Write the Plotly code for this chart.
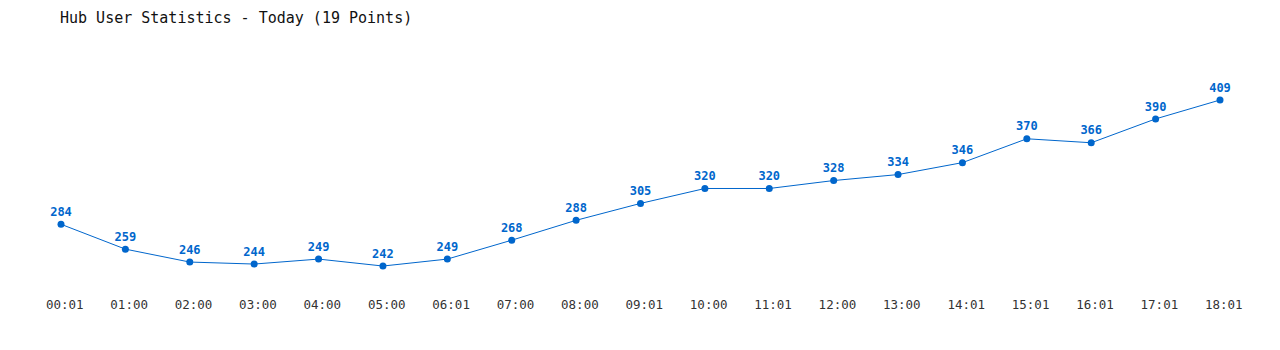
import plotly.graph_objects as go

times = ["00:01", "01:00", "02:00", "03:00", "04:00", "05:00", "06:01", "07:00", "08:00",
         "09:01", "10:00", "11:01", "12:00", "13:00", "14:01", "15:01", "16:01", "17:01", "18:01"]
users = [284, 259, 246, 244, 249, 242, 249, 268, 288, 305, 320, 320, 328, 334, 346, 370, 366, 390, 409]

idx = list(range(len(times)))
color = "#0066cc"

fig = go.Figure(go.Scatter(
    x=idx, y=users, mode="lines+markers+text",
    line=dict(color=color, width=1),
    marker=dict(color=color, size=7),
    text=[str(v) for v in users], textposition="top center",
    textfont=dict(family="DejaVu Sans Mono", size=12, color=color, weight="bold"),
    cliponaxis=False,
    hoverinfo="x+y",
))

fig.update_layout(
    width=1280, height=350,
    margin=dict(l=61, r=60, t=50, b=60),
    paper_bgcolor="white", plot_bgcolor="white",
    showlegend=False,
    title=dict(text="Hub User Statistics - Today (19 Points)", x=60/1280, xanchor="left",
               y=1-18/350, yanchor="middle",
               font=dict(family="DejaVu Sans Mono", size=15, color="#111")),
    xaxis=dict(range=[0, 18], tickvals=idx, ticktext=["\u00a0" + t for t in times],
               showgrid=False, zeroline=False,
               showline=False, ticklabelstandoff=5,
               tickfont=dict(family="DejaVu Sans Mono", size=12.5, color="#333")),
    yaxis=dict(range=[217.9, 459.3], showgrid=False, zeroline=False, showline=False,
               showticklabels=False),
)

fig.write_html("out.html")
